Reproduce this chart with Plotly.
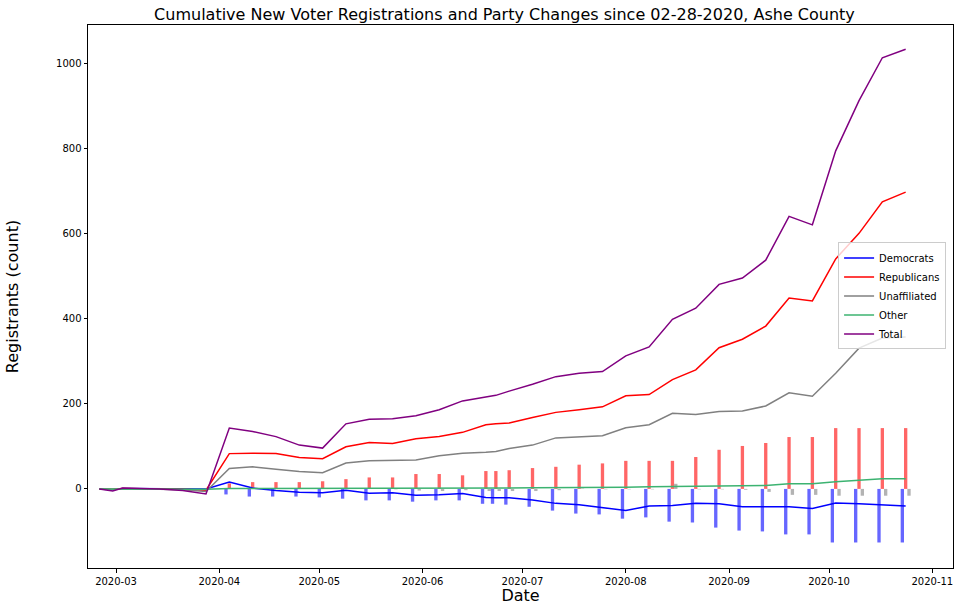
import plotly.graph_objects as go
import pandas as pd

# ---- data ----
line_dates = ["2020-02-25", "2020-02-29", "2020-03-03", "2020-03-07", "2020-03-14", "2020-03-21",
              "2020-03-28", "2020-04-04", "2020-04-11", "2020-04-18", "2020-04-25", "2020-05-02",
              "2020-05-09", "2020-05-16", "2020-05-23", "2020-05-30", "2020-06-06", "2020-06-13",
              "2020-06-20", "2020-06-23", "2020-06-27", "2020-07-04", "2020-07-11", "2020-07-18",
              "2020-07-25", "2020-08-01", "2020-08-08", "2020-08-15", "2020-08-22", "2020-08-29",
              "2020-09-05", "2020-09-12", "2020-09-19", "2020-09-26", "2020-10-03", "2020-10-10",
              "2020-10-17", "2020-10-24"]

democrats = [0, -2, 1, 1, 1, 0, 0, 16, 2, -4, -8, -9, -3, -10, -9, -15, -14, -11, -20, -21, -21,
             -26, -34, -37, -44, -51, -40, -39, -34, -35, -42, -42, -42, -46, -33, -35, -37, -40]
republicans = [0, -1, 1, 1, 0, -1, -3, 83, 84, 83, 74, 71, 99, 109, 107, 118, 123, 133, 151, 153,
               155, 168, 180, 186, 193, 219, 222, 257, 280, 332, 352, 383, 449, 442, 541, 601, 675, 698]
unaffiliated = [0, -1, 0, 0, -1, -2, -6, 48, 52, 46, 41, 38, 61, 66, 67, 68, 78, 84, 86, 88, 95,
                103, 120, 123, 125, 144, 151, 178, 175, 182, 183, 195, 226, 218, 272, 331, 355, 357]
other = [0, 0, 0, 0, 0, -1, -1, 1, 1, 1, 1, 1, 1, 2, 2, 2, 2, 2, 2, 2, 2, 3, 3, 3, 4, 4, 5, 5, 6,
         7, 8, 8, 12, 12, 17, 20, 24, 24]
total = [0, -5, 2, 1, 0, -4, -12, 143, 135, 123, 103, 96, 153, 164, 165, 172, 186, 207, 216, 220,
         230, 246, 264, 272, 276, 313, 334, 399, 425, 481, 496, 538, 641, 621, 795, 913, 1014, 1034]

bar_dates = line_dates[7:]
dem_changes = [-13, -18, -18, -18, -20, -23, -27, -27, -30, -27, -27, -35, -35, -37, -42, -51, -58,
               -60, -70, -67, -77, -79, -91, -98, -100, -107, -107, -126, -126, -126, -126]
rep_changes = [13, 16, 16, 16, 18, 23, 27, 27, 35, 35, 32, 42, 42, 44, 49, 52, 57, 60, 66, 66, 66,
               75, 92, 101, 108, 122, 122, 143, 143, 143, 143]
una_changes = [2, 2, 1, 1, 1, 0, 0, -1, -4, -5, -3, -5, -5, -5, -5, -3, 1, -1, -1, -1, 12, -1, -1,
               -2, -7, -14, -14, -16, -16, -16, -16]

DAY = 86400000.0

fig = go.Figure()

bar_specs = [
    (dem_changes, "rgba(0,0,255,0.6)", -1.5),
    (rep_changes, "rgba(255,0,0,0.6)", -0.5),
    (una_changes, "rgba(128,128,128,0.6)", 0.5),
]
for vals, col, off in bar_specs:
    fig.add_trace(go.Bar(x=pd.to_datetime(bar_dates), y=vals, marker=dict(color=col, line=dict(width=0)),
                         width=1.0 * DAY, offset=off * DAY, showlegend=False, hoverinfo="skip"))

line_specs = [
    ("Democrats", democrats, "blue"),
    ("Republicans", republicans, "red"),
    ("Unaffiliated", unaffiliated, "grey"),
    ("Other", other, "mediumseagreen"),
    ("Total", total, "purple"),
]
for name, vals, col in line_specs:
    fig.add_trace(go.Scatter(x=pd.to_datetime(line_dates), y=vals, mode="lines", name=name,
                             line=dict(color=col, width=1.5)))

axis_common = dict(showline=True, mirror=True, linecolor="black", linewidth=1, ticks="outside",
                   ticklen=3.5, tickwidth=1, tickcolor="black", showgrid=False, zeroline=False,
                   tickfont=dict(family="DejaVu Sans", size=10, color="black"))

fig.update_layout(
    width=960, height=611,
    margin=dict(l=88, r=7, t=25, b=43, autoexpand=False),
    paper_bgcolor="white", plot_bgcolor="white",
    barmode="overlay",
    font=dict(family="DejaVu Sans", color="black"),
    title=dict(text="Cumulative New Voter Registrations and Party Changes since 02-28-2020, Ashe County",
               x=0.5255, xref="container", xanchor="center", y=0.977, yref="container", yanchor="middle",
               font=dict(family="DejaVu Sans", size=16, color="black")),
    xaxis=dict(axis_common, range=["2020-02-21 14:00", "2020-11-07 05:00"], type="date",
               tickformat="%Y-%m", dtick="M1", tick0="2020-03-01",
               title=dict(text="Date", font=dict(family="DejaVu Sans", size=16), standoff=4)),
    yaxis=dict(axis_common, range=[-186, 1091], tickvals=[0, 200, 400, 600, 800, 1000],
               title=dict(text="Registrants (count)", font=dict(family="DejaVu Sans", size=16), standoff=33)),
    legend=dict(x=0.992, y=0.501, xanchor="right", yanchor="middle", bgcolor="rgba(255,255,255,0.8)",
                bordercolor="#cccccc", borderwidth=1, font=dict(family="DejaVu Sans", size=10),
                itemwidth=30, tracegroupgap=0),
)

fig.write_html("out.html", config={"displayModeBar": False},
               post_script="document.body.style.margin='0';")
